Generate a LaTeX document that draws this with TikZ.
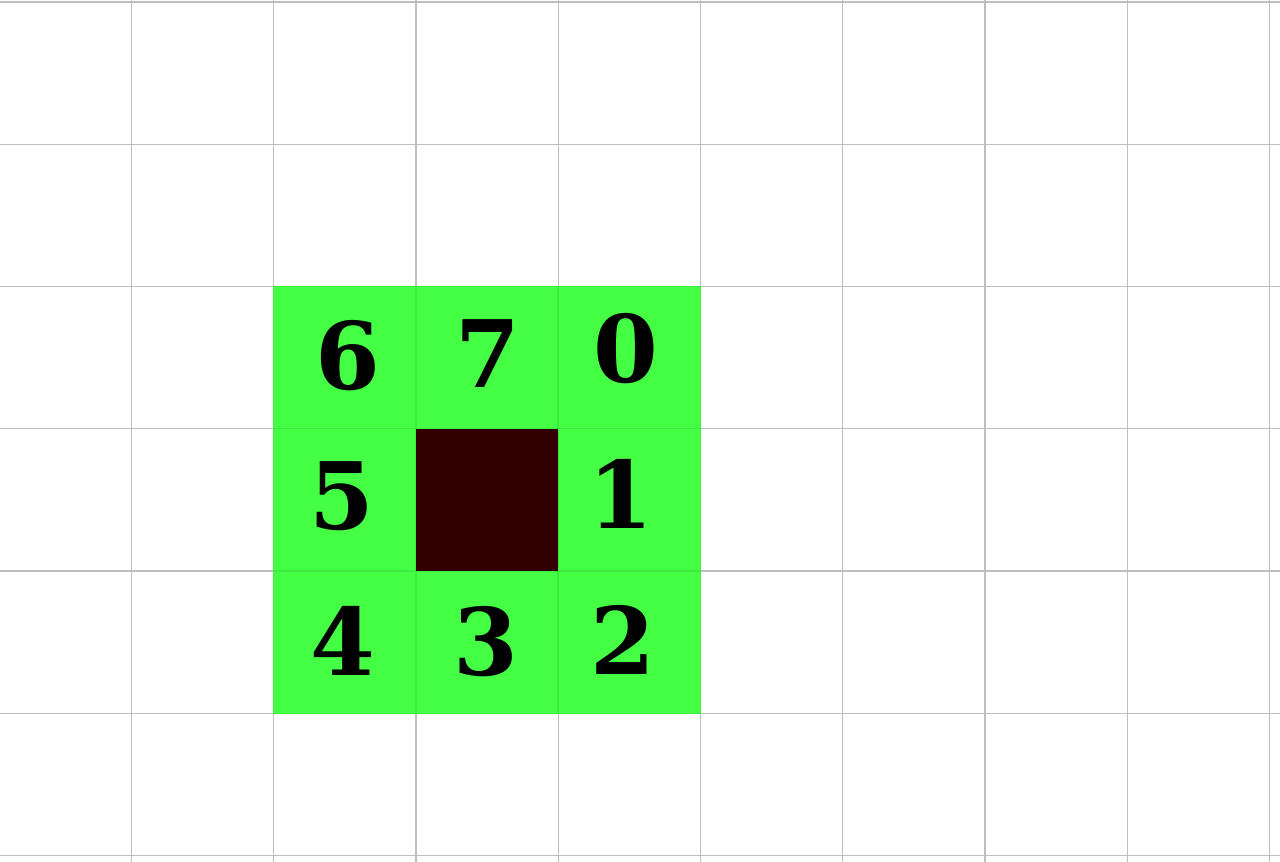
\documentclass[tikz,border=0pt]{standalone}
\usepackage{fontspec}
\newfontfamily\digitfont{DejaVu Serif}
\usetikzlibrary{positioning}

\definecolor{gridgray}{HTML}{BEBEBE}
\definecolor{cellgreen}{HTML}{44FF44}
\definecolor{celledge}{HTML}{3FEA3F}
\definecolor{blocked}{HTML}{330000}

\tikzset{
  digit/.style={inner sep=0pt,font=\digitfont\bfseries\fontsize{26.5}{31}\selectfont},
  cell/.style={fill=cellgreen,draw=celledge,line width=0.4pt},
  gridline/.style={gridgray,line width=0.35pt}
}

\begin{document}
\begin{tikzpicture}[x=1.4225cm,y=1.4225cm]

  \useasboundingbox (-0.924,-0.039) rectangle (8.074,6.014);
  \fill [white] (-0.924,-0.039) rectangle (8.074,6.014);

  \foreach \x in {0,...,8}
    \draw [gridline] (\x,-0.1) -- (\x,6.1);
  \foreach \y in {0,...,6}
    \draw [gridline] (-1,\y) -- (8.5,\y);

  \foreach \x in {1,2,3}
    \foreach \y in {1,2,3}
      \draw [cell] (\x,\y) rectangle ++(1,1);
  \fill [blocked] (2,2) rectangle (3,3);

  \node [digit] (d6) at (1.522,3.511) {6};
  \node [digit] (d7) at (2.506,3.525) {7};
  \node [digit] (d0) at (3.473,3.561) {0};
  \node [digit] (d5) at (1.480,2.527) {5};
  \node [digit] (d1) at (3.441,2.541) {1};
  \node [digit] (d4) at (1.487,1.505) {4};
  \node [digit] (d3) at (2.492,1.505) {3};
  \node [digit] (d2) at (3.454,1.512) {2};

\end{tikzpicture}
\end{document}
